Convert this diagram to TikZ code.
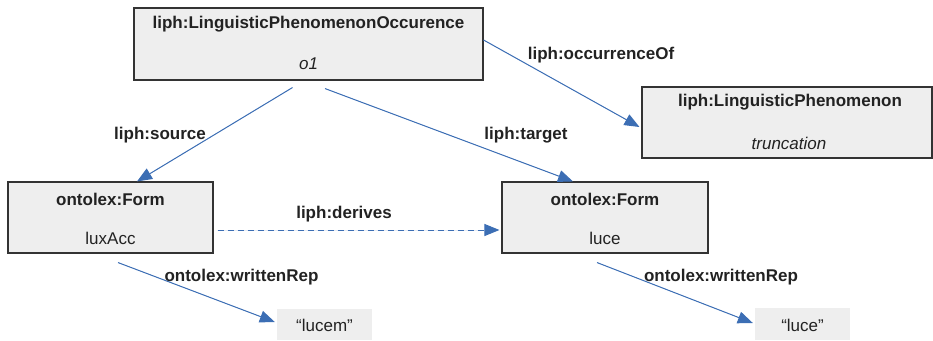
\documentclass[tikz,border=0pt]{standalone}
\usepackage{fontspec}
\setmainfont{Liberation Sans}
\usetikzlibrary{arrows.meta}
\definecolor{boxfill}{HTML}{EEEEEE}
\definecolor{boxline}{HTML}{333333}
\definecolor{linkblue}{HTML}{3C6EB4}
\definecolor{ink}{HTML}{222222}
\tikzset{
  classbox/.style={draw=boxline, line width=1.1pt, fill=boxfill, inner sep=0pt},
  litbox/.style={fill=boxfill, inner sep=0pt},
  title/.style={font=\fontsize{17}{20}\selectfont\bfseries, text=ink, inner sep=0pt},
  value/.style={font=\fontsize{17}{20}\selectfont, text=ink, inner sep=0pt},
  ivalue/.style={font=\fontsize{17}{20}\selectfont\itshape, text=ink, inner sep=0pt},
  rel/.style={font=\fontsize{17}{20}\selectfont\bfseries, text=ink, inner sep=0pt},
  link/.style={draw=linkblue, line width=1pt, -{Triangle[length=15pt,width=12pt]}, fill=linkblue},
  dlink/.style={link, dash pattern=on 6pt off 4pt}
}
\begin{document}
\begin{tikzpicture}[x=1pt, y=-1pt]
\useasboundingbox (0,0) rectangle (933,340);

% classes
\node[classbox, minimum width=349pt, minimum height=72pt] (occ) at (308.5,44) {};
\node[title] (occT) at (308.5,24) {liph:LinguisticPhenomenonOccurence};
\node[ivalue] (occV) at (308.5,64) {o1};

\node[classbox, minimum width=290pt, minimum height=71pt] (phen) at (787,122.5) {};
\node[title] (phenT) at (790,102) {liph:LinguisticPhenomenon};
\node[ivalue] (phenV) at (789,143) {truncation};

\node[classbox, minimum width=205pt, minimum height=71pt] (formL) at (110.5,217.5) {};
\node[title] (formLT) at (110.5,199) {ontolex:Form};
\node[value] (formLV) at (110.5,238) {luxAcc};

\node[classbox, minimum width=206pt, minimum height=71pt] (formR) at (605,217.5) {};
\node[title] (formRT) at (605,199) {ontolex:Form};
\node[value] (formRV) at (605,238) {luce};

% literals
\node[litbox, minimum width=95pt, minimum height=31pt] (litL) at (324.5,324.5) {};
\node[value] (litLT) at (324.5,325) {“lucem”};
\node[litbox, minimum width=95pt, minimum height=32pt] (litR) at (802.5,324) {};
\node[value] (litRT) at (802.5,325) {“luce”};

% relations
\draw[link] ([xshift=-16pt,yshift=-7pt]occ.south) -- ([xshift=26.5pt]formL.north);
\draw[link] ([xshift=16.5pt,yshift=-8pt]occ.south) -- ([xshift=-32pt]formR.north);
\draw[link] ([yshift=4pt]occ.east) -- ([xshift=-2pt,yshift=-4.5pt]phen.west);
\draw[dlink] ([xshift=4pt,yshift=-12.5pt]formL.east) -- ([xshift=-2pt,yshift=-12.5pt]formR.west);
\draw[link] ([xshift=7.5pt,yshift=-9pt]formL.south) -- ([xshift=-2pt,yshift=2.5pt]litL.west);
\draw[link] ([xshift=-8pt,yshift=-9pt]formR.south) -- ([xshift=-2pt,yshift=1pt]litR.west);

% relation labels
\node[rel] (lsrc) at (160,135) {liph:source};
\node[rel] (ltgt) at (526,135) {liph:target};
\node[rel] (locc) at (601,55) {liph:occurrenceOf};
\node[rel] (lder) at (344,214) {liph:derives};
\node[rel] (lwrL) at (241.5,277) {ontolex:writtenRep};
\node[rel] (lwrR) at (721,277) {ontolex:writtenRep};
\end{tikzpicture}
\end{document}
